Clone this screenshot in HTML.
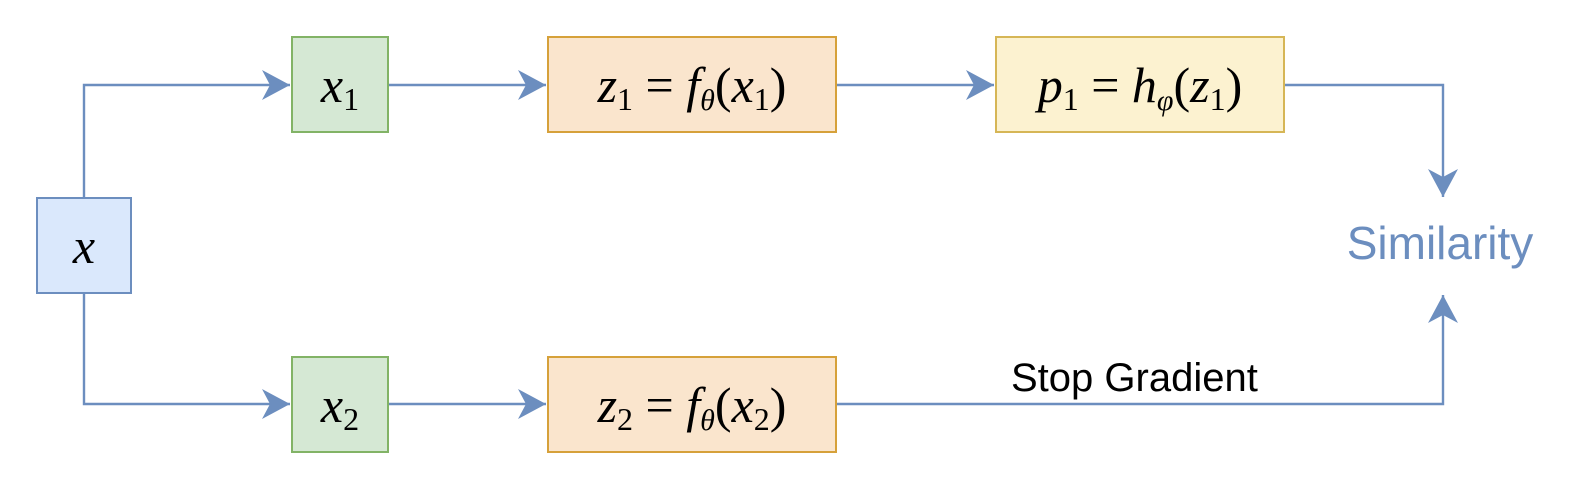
<!DOCTYPE html>
<html><head><style>
body{margin:0;background:#fff;}
.b{position:absolute;box-sizing:border-box;border:2px solid;display:flex;align-items:center;justify-content:center;font-family:"Liberation Serif",serif;font-size:50px;color:#000;}
i{font-style:italic}
sub{font-size:32px;vertical-align:-8px;font-style:normal;line-height:0}
sub i{font-size:30px}
</style></head><body>
<div style="position:relative;width:1578px;height:490px;overflow:hidden">
<svg width="1578" height="490" style="position:absolute;left:0;top:0">
<defs><marker id="a" markerWidth="28" markerHeight="30" refX="28" refY="15" orient="auto" markerUnits="userSpaceOnUse" viewBox="0 0 28 30"><path d="M0,0 L28,15 L0,30 L8,15z" fill="#6c8ebf"/></marker></defs>
<g stroke="#6c8ebf" stroke-width="2.4" fill="none">
<path d="M84,197 V85 H290" marker-end="url(#a)"/>
<path d="M84,293 V404 H290" marker-end="url(#a)"/>
<path d="M389,85 H546" marker-end="url(#a)"/>
<path d="M389,404 H546" marker-end="url(#a)"/>
<path d="M837,85 H994" marker-end="url(#a)"/>
<path d="M1285,85 H1443 V197" marker-end="url(#a)"/>
<path d="M837,404 H1443 V295" marker-end="url(#a)"/>
</g>
</svg>
<div class="b" style="left:36px;top:197px;width:96px;height:97px;background:#dae8fc;border-color:#6c8ebf"><span><i>x</i></span></div>
<div class="b" style="left:291px;top:36px;width:98px;height:97px;background:#d5e8d4;border-color:#82b366"><span><i>x</i><sub>1</sub></span></div>
<div class="b" style="left:291px;top:356px;width:98px;height:97px;background:#d5e8d4;border-color:#82b366"><span><i>x</i><sub>2</sub></span></div>
<div class="b" style="left:547px;top:36px;width:290px;height:97px;background:#fae5cd;border-color:#d6a13a"><span><i>z</i><sub>1</sub> = <i>f</i><sub><i>θ</i></sub>(<i>x</i><sub>1</sub>)</span></div>
<div class="b" style="left:547px;top:356px;width:290px;height:97px;background:#fae5cd;border-color:#d6a13a"><span><i>z</i><sub>2</sub> = <i>f</i><sub><i>θ</i></sub>(<i>x</i><sub>2</sub>)</span></div>
<div class="b" style="left:995px;top:36px;width:290px;height:97px;background:#fcf2d0;border-color:#d6b656"><span><i>p</i><sub>1</sub> = <i>h</i><sub><i>φ</i></sub>(<i>z</i><sub>1</sub>)</span></div>
<div style="position:absolute;left:1290px;top:216px;width:300px;text-align:center;font-family:'Liberation Sans',sans-serif;font-size:46px;color:#6c8ebf">Similarity</div>
<div style="position:absolute;left:1011px;top:356px;font-family:'Liberation Sans',sans-serif;font-size:40px;color:#000;white-space:nowrap">Stop Gradient</div>
</div>
</body></html>
